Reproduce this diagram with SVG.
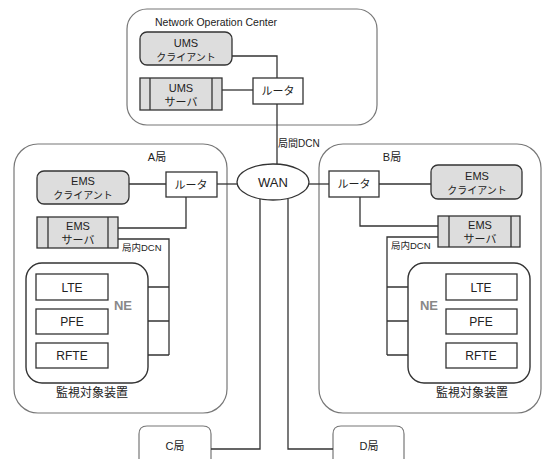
<svg xmlns="http://www.w3.org/2000/svg" width="544" height="459" viewBox="0 0 544 459">
<style>
text{font-family:"Liberation Sans","Noto Sans CJK JP",sans-serif;font-size:11px;fill:#222;text-anchor:middle}
.site{fill:#fff;stroke:#777;stroke-width:1.2}
.ne{fill:#fff;stroke:#333;stroke-width:1.4}
.dev{fill:#fff;stroke:#333;stroke-width:1.3}
.cli{fill:#ddd;stroke:#333;stroke-width:1.3}
.srv{fill:#ddd;stroke:#333;stroke-width:1.3}
.ln{fill:none;stroke:#333;stroke-width:1.3}
.nelbl{font-weight:bold;fill:#888;font-size:13px}
.lbl{text-anchor:start}
.kana{font-size:10px}
.ne-t{font-size:12px}
</style>
<g id="noc"><rect class="site" x="127" y="9" width="250" height="116" rx="20"/><text class="lbl" x="155" y="26" style="font-size:10.5px">Network Operation Center</text></g>
<g id="siteA"><rect class="site" x="14" y="144" width="213" height="269" rx="24"/><text x="157" y="161">A局</text></g>
<g id="siteB"><rect class="site" x="319" y="144" width="222" height="269" rx="24"/><text x="392" y="161">B局</text></g>
<g id="siteC"><path class="site" d="M139,459 V434 Q139,426 147,426 H203 Q211,426 211,434 V459"/><text x="175" y="450">C局</text></g>
<g id="siteD"><path class="site" d="M333,459 V434 Q333,426 341,426 H396 Q404,426 404,434 V459"/><text x="369" y="450">D局</text></g>
<g id="connectors">
<polyline class="ln" points="232,56 277,56 277,78"/>
<line class="ln" x1="222" y1="90" x2="253" y2="90"/>
<line class="ln" x1="277" y1="104" x2="277" y2="164"/>
<line class="ln" x1="129" y1="184" x2="166" y2="184"/>
<line class="ln" x1="217" y1="184" x2="237" y2="184"/>
<polyline class="ln" points="186,197 186,228 118,228"/>
<polyline class="ln" points="118,239 169,239 169,355"/>
<line class="ln" x1="108" y1="287" x2="169" y2="287"/>
<line class="ln" x1="108" y1="321" x2="169" y2="321"/>
<line class="ln" x1="108" y1="355" x2="169" y2="355"/>
<line class="ln" x1="309" y1="184" x2="329" y2="184"/>
<line class="ln" x1="379" y1="184" x2="431" y2="184"/>
<polyline class="ln" points="360,197 360,226 438,226"/>
<polyline class="ln" points="438,237 387,237 387,355"/>
<line class="ln" x1="387" y1="287" x2="446" y2="287"/>
<line class="ln" x1="387" y1="321" x2="446" y2="321"/>
<line class="ln" x1="387" y1="355" x2="446" y2="355"/>
<polyline class="ln" points="260,199 260,449 211,449"/>
<polyline class="ln" points="288,199 288,449 333,449"/>
<text class="lbl" x="278" y="147" style="font-size:10px">局間DCN</text>
<text class="lbl" x="122" y="251" style="font-size:9.5px">局内DCN</text>
<text class="lbl" x="391" y="249" style="font-size:9.5px">局内DCN</text>
</g>
<g id="umsClient"><rect class="cli" x="140" y="32" width="92" height="33" rx="7"/><text x="186" y="47">UMS</text><text class="kana" x="186" y="61">クライアント</text></g>
<g id="umsServer"><rect class="srv" x="140" y="78" width="82" height="32"/><line class="ln" x1="150" y1="78" x2="150" y2="110"/><line class="ln" x1="212" y1="78" x2="212" y2="110"/><text x="181" y="92">UMS</text><text x="181" y="106">サーバ</text></g>
<g id="nocRouter"><rect class="dev" x="253" y="78" width="50" height="26"/><text x="278" y="95">ルータ</text></g>
<g id="wan"><ellipse class="dev" cx="273" cy="182" rx="36" ry="18"/><text x="273" y="187" style="font-size:13px">WAN</text></g>
<g id="emsClientA"><rect class="cli" x="37" y="171" width="92" height="33" rx="7"/><text x="83" y="185">EMS</text><text class="kana" x="83" y="199">クライアント</text></g>
<g id="routerA"><rect class="dev" x="166" y="172" width="51" height="25"/><text x="191" y="189">ルータ</text></g>
<g id="emsServerA"><rect class="srv" x="37" y="217" width="81" height="31"/><line class="ln" x1="48" y1="217" x2="48" y2="248"/><line class="ln" x1="108" y1="217" x2="108" y2="248"/><text x="78" y="230">EMS</text><text x="78" y="244">サーバ</text></g>
<g id="neA"><rect class="ne" x="26" y="263" width="122" height="120" rx="16"/><text class="nelbl" x="123" y="310">NE</text><text class="ne-t" x="92" y="397">監視対象装置</text></g>
<g id="lteA"><rect class="dev" x="36" y="274" width="72" height="26"/><text class="ne-t" x="72" y="292">LTE</text></g>
<g id="pfeA"><rect class="dev" x="36" y="309" width="72" height="25"/><text class="ne-t" x="72" y="326">PFE</text></g>
<g id="rfteA"><rect class="dev" x="36" y="343" width="72" height="25"/><text class="ne-t" x="72" y="360">RFTE</text></g>
<g id="routerB"><rect class="dev" x="329" y="171" width="50" height="26"/><text x="354" y="188">ルータ</text></g>
<g id="emsClientB"><rect class="cli" x="431" y="165" width="91" height="34" rx="7"/><text x="477" y="180">EMS</text><text class="kana" x="477" y="194">クライアント</text></g>
<g id="emsServerB"><rect class="srv" x="438" y="216" width="82" height="31"/><line class="ln" x1="449" y1="216" x2="449" y2="247"/><line class="ln" x1="511" y1="216" x2="511" y2="247"/><text x="480" y="229">EMS</text><text x="480" y="243">サーバ</text></g>
<g id="neB"><rect class="ne" x="408" y="263" width="122" height="120" rx="16"/><text class="nelbl" x="429" y="310">NE</text><text class="ne-t" x="472" y="397">監視対象装置</text></g>
<g id="lteB"><rect class="dev" x="446" y="274" width="71" height="26"/><text class="ne-t" x="481" y="292">LTE</text></g>
<g id="pfeB"><rect class="dev" x="446" y="309" width="71" height="25"/><text class="ne-t" x="481" y="326">PFE</text></g>
<g id="rfteB"><rect class="dev" x="446" y="343" width="71" height="25"/><text class="ne-t" x="481" y="360">RFTE</text></g>
</svg>
